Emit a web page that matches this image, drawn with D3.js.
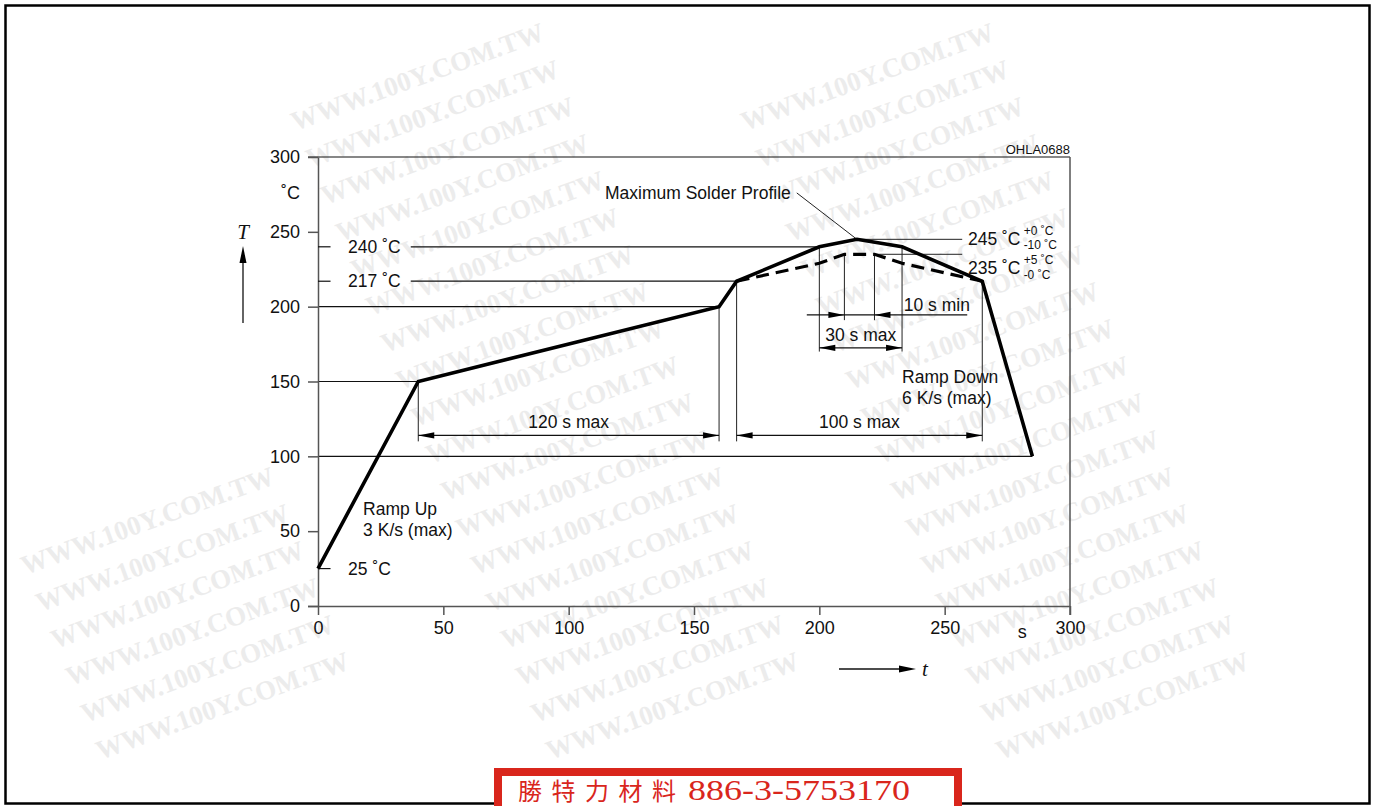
<!DOCTYPE html>
<html><head><meta charset="utf-8">
<script src="https://cdn.jsdelivr.net/npm/d3@7"></script>
<style>body{margin:0;background:#fff}svg{display:block}</style>
</head><body><svg id="c" width="1375" height="806"></svg>
<script>
// ---------- data ----------
const timeTicks = [0, 50, 100, 150, 200, 250, 300];
const tempTicks = [0, 50, 100, 150, 200, 250, 300];
const maxProfileTime = [0, 40, 160, 167, 200, 215, 233, 265, 285];
const maxProfileTemp = [25, 150, 200, 217, 240, 245, 240, 217, 100];
const minProfileTime = [167, 200, 210, 222, 233, 265];
const minProfileTemp = [217, 229, 235, 235, 229, 217];
const refLevels = [200, 150, 100];
const refEnds = [160, 40, 285];
const markLevels = [240, 217, 25];
const markLabels = ["240 ˚C", "217 ˚C", "25 ˚C"];
const markEnds = [200, 167, null];
const dimLabels = ["120 s max", "100 s max", "30 s max"];
const dimStart = [40, 167, 200];
const dimEnd = [160, 265, 233];
const dimLevel = [114, 114, 172.5];
const extTimes = [40, 160, 167, 265, 200, 233, 210, 222];
const extTop = [150, 200, 217, 217, 240, 240, 235, 235];
const extBottom = [110, 110, 110, 110, 170, 170, 191, 191];

const W = 1375, H = 806;
const svg = d3.select("#c");
const FONT = "'Liberation Sans', Arial, Helvetica, sans-serif";

svg.append("rect").attr("width", W).attr("height", H).attr("fill", "#fff");

// ---------- watermark ----------
const wm = svg.append("g").attr("fill", "#ececec")
  .attr("font-family", "'Liberation Serif', 'Times New Roman', serif")
  .attr("font-weight", "bold").attr("font-size", 27);
for (let c = -1; c < 4; c++) {
  for (let r = 0; r < 23; r++) {
    const x0 = -200 + 450 * c + 15 * r, y0 = 20 + 37 * r;
    const t = wm.append("text").attr("x", x0).attr("y", y0)
      .attr("transform", `rotate(-20,${x0},${y0})`).text("WWW.100Y.COM.TW");
    const b = t.node().getBoundingClientRect();
    if (b.left < 8 || b.top < 8 || b.right > W - 8 || b.bottom > H - 4) t.remove();
  }
}

// ---------- scales ----------
const x = d3.scaleLinear().domain([0, 300]).range([318, 1070]);
const y = d3.scaleLinear().domain([0, 300]).range([606, 157]);

const g = svg.append("g");

// reference lines
g.append("line").attr("x1", x(0) - 10).attr("x2", x(300)).attr("y1", y(300)).attr("y2", y(300))
  .attr("stroke", "#111").attr("stroke-width", 1.2);
g.append("line").attr("x1", x(300)).attr("x2", x(300)).attr("y1", y(300)).attr("y2", y(0) + 9)
  .attr("stroke", "#555").attr("stroke-width", 1.5);
refLevels.forEach((v, i) => {
  g.append("line").attr("x1", x(0)).attr("x2", x(refEnds[i])).attr("y1", y(v)).attr("y2", y(v))
    .attr("stroke", "#111").attr("stroke-width", 1.2);
});

// axes
const yAxis = g.append("g").attr("transform", `translate(${x(0)},0)`)
  .call(d3.axisLeft(y).tickValues(tempTicks).tickSize(10).tickSizeOuter(0).tickPadding(8));
const xAxis = g.append("g").attr("transform", `translate(0,${y(0)})`)
  .call(d3.axisBottom(x).tickValues(timeTicks).tickSize(9).tickSizeOuter(0).tickPadding(6));
[yAxis, xAxis].forEach(a => {
  a.selectAll("path,line").attr("stroke", "#555").attr("stroke-width", 1.5);
  a.selectAll("text").attr("font-family", FONT).attr("font-size", 18).attr("fill", "#111");
});
xAxis.select(".domain").attr("d", `M${x(0) - 10},0.5H${x(300)}`);

// marked levels with labels
markLevels.forEach((v, i) => {
  g.append("line").attr("x1", x(0)).attr("x2", x(5)).attr("y1", y(v)).attr("y2", y(v))
    .attr("stroke", "#111").attr("stroke-width", 1.2);
  g.append("text").attr("x", x(12)).attr("y", y(v)).attr("dy", "0.35em")
    .attr("font-family", FONT).attr("font-size", 17.5).attr("fill", "#111").text(markLabels[i]);
  if (markEnds[i] !== null) {
    g.append("line").attr("x1", x(37)).attr("x2", x(markEnds[i])).attr("y1", y(v)).attr("y2", y(v))
      .attr("stroke", "#111").attr("stroke-width", 1.2);
  }
});

// extension lines
extTimes.forEach((t, i) => {
  g.append("line").attr("x1", x(t)).attr("x2", x(t)).attr("y1", y(extTop[i])).attr("y2", y(extBottom[i]))
    .attr("stroke", "#222").attr("stroke-width", 1);
});

// leader lines for peak values
g.append("line").attr("x1", x(215)).attr("x2", x(257)).attr("y1", y(245)).attr("y2", y(245))
  .attr("stroke", "#222").attr("stroke-width", 1);
g.append("line").attr("x1", x(222)).attr("x2", x(257)).attr("y1", y(235)).attr("y2", y(235))
  .attr("stroke", "#222").attr("stroke-width", 1);
g.append("line").attr("x1", x(191)).attr("x2", x(215)).attr("y1", y(276)).attr("y2", y(245))
  .attr("stroke", "#222").attr("stroke-width", 1);

// arrow helper
function arrowHead(px, py, dir) {
  const L = 16, w = 3.2;
  g.append("path").attr("d", `M${px},${py}L${px - dir * L},${py - w}L${px - dir * L},${py + w}Z`).attr("fill", "#000");
}

// dimension arrows
dimLabels.forEach((lab, i) => {
  const yy = y(dimLevel[i]);
  g.append("line").attr("x1", x(dimStart[i])).attr("x2", x(dimEnd[i])).attr("y1", yy).attr("y2", yy)
    .attr("stroke", "#111").attr("stroke-width", 1.2);
  arrowHead(x(dimStart[i]), yy, -1);
  arrowHead(x(dimEnd[i]), yy, 1);
  g.append("text").attr("x", (x(dimStart[i]) + x(dimEnd[i])) / 2)
    .attr("y", yy - 7).attr("text-anchor", "middle")
    .attr("font-family", FONT).attr("font-size", 17.5).attr("fill", "#111").text(lab);
});
// 10 s min (outside arrows)
{
  const yy = y(194.5);
  g.append("line").attr("x1", x(195)).attr("x2", x(259)).attr("y1", yy).attr("y2", yy)
    .attr("stroke", "#111").attr("stroke-width", 1.2);
  arrowHead(x(210), yy, 1);
  arrowHead(x(222), yy, -1);
  g.append("text").attr("x", x(233.7)).attr("y", yy - 4)
    .attr("font-family", FONT).attr("font-size", 17.5).attr("fill", "#111").text("10 s min");
}

// profiles
const line = d3.line().x(d => x(d[0])).y(d => y(d[1]));
g.append("path").datum(minProfileTime.map((t, i) => [t, minProfileTemp[i]]))
  .attr("d", line).attr("fill", "none").attr("stroke", "#000").attr("stroke-width", 3.2)
  .attr("stroke-dasharray", "13,7");
g.append("path").datum(maxProfileTime.map((t, i) => [t, maxProfileTemp[i]]))
  .attr("d", line).attr("fill", "none").attr("stroke", "#000").attr("stroke-width", 3.6)
  .attr("stroke-linejoin", "miter");

// annotations
function txt(tx, ty, s, size, anchor) {
  return g.append("text").attr("x", tx).attr("y", ty).attr("dy", "0.35em")
    .attr("font-family", FONT).attr("font-size", size || 17.5).attr("fill", "#111")
    .attr("text-anchor", anchor || "start").text(s);
}
txt(x(114.5), y(276), "Maximum Solder Profile");
txt(x(233), y(153), "Ramp Down");
txt(x(233), y(139), "6 K/s (max)");
txt(x(18), y(64.8), "Ramp Up");
txt(x(18), y(50.8), "3 K/s (max)");
txt(x(259.3), y(245.5), "245 ˚C");
txt(x(259.3), y(226), "235 ˚C");
txt(x(281.5), y(251), "+0 ˚C", 12);
txt(x(281.5), y(241.5), "-10 ˚C", 12);
txt(x(281.5), y(231.5), "+5 ˚C", 12);
txt(x(281.5), y(221.5), "-0 ˚C", 12);
txt(x(300), y(305.3), "OHLA0688", 13, "end");
txt(300, y(276), "˚C", 18, "end");
txt(x(281), y(0) + 26, "s", 18, "middle");

// axis name arrows
g.append("line").attr("x1", 243).attr("x2", 243).attr("y1", 323).attr("y2", 258).attr("stroke", "#111").attr("stroke-width", 1.3);
g.append("path").attr("d", "M243,246L239.5,263L246.5,263Z").attr("fill", "#000");
g.append("text").attr("x", 243).attr("y", 232).attr("dy", "0.35em").attr("text-anchor", "middle")
  .attr("font-family", "'Liberation Serif', 'Times New Roman', serif").attr("font-style", "italic")
  .attr("font-size", 21).attr("fill", "#111").text("T");
g.append("line").attr("x1", 839).attr("x2", 902).attr("y1", 669).attr("y2", 669).attr("stroke", "#111").attr("stroke-width", 1.3);
g.append("path").attr("d", "M916,669L899,665.5L899,672.5Z").attr("fill", "#000");
g.append("text").attr("x", 922).attr("y", 669).attr("dy", "0.35em")
  .attr("font-family", "'Liberation Serif', 'Times New Roman', serif").attr("font-style", "italic")
  .attr("font-size", 21).attr("fill", "#111").text("t");

// frame
svg.append("rect").attr("x", 5.5).attr("y", 5.5).attr("width", W - 11).attr("height", H - 8)
  .attr("fill", "none").attr("stroke", "#000").attr("stroke-width", 2.5);

// red stamp box
svg.append("rect").attr("x", 498).attr("y", 772).attr("width", 460).attr("height", 60)
  .attr("fill", "#fff").attr("stroke", "#d9261c").attr("stroke-width", 8);
svg.append("text").attr("x", 518).attr("y", 800).attr("fill", "#d9261c")
  .attr("font-family", "'Noto Sans CJK TC', 'Noto Sans CJK SC', serif").attr("font-size", 24)
  .attr("textLength", 158).attr("lengthAdjust", "spacing").text("勝特力材料");
svg.append("text").attr("x", 688).attr("y", 800).attr("fill", "#d9261c")
  .attr("font-family", "'Liberation Serif', serif").attr("font-size", 29)
  .attr("textLength", 222).attr("lengthAdjust", "spacingAndGlyphs").text("886-3-5753170");
</script></body></html>
